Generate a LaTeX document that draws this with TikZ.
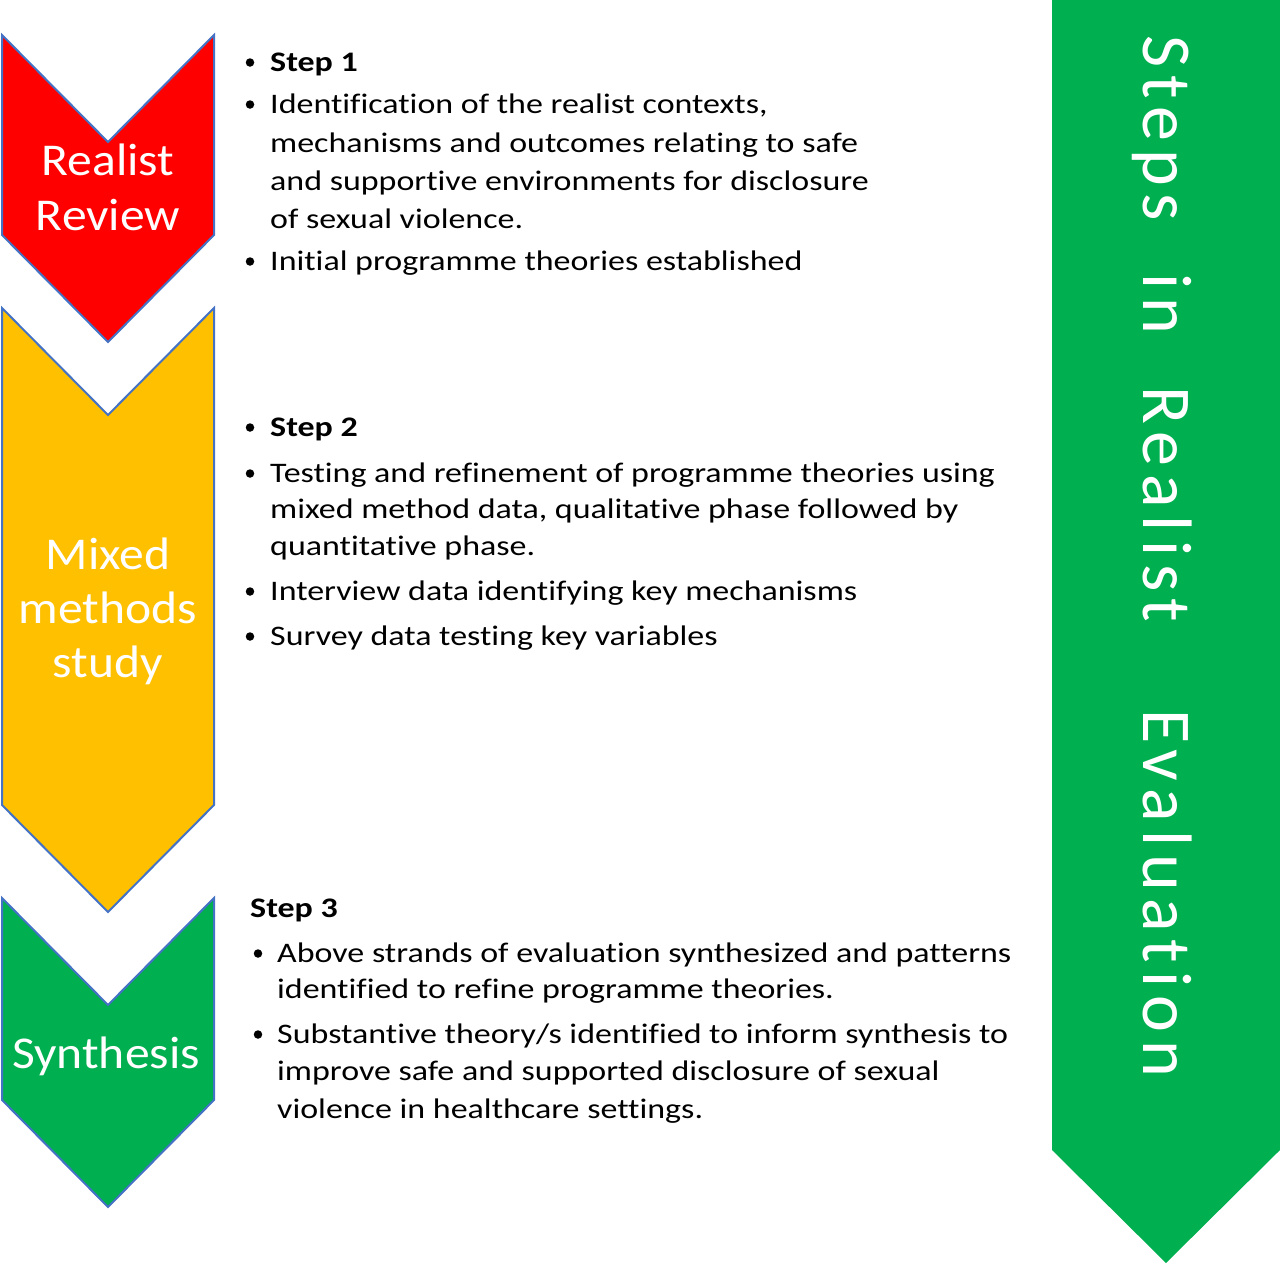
\documentclass[tikz,border=0pt]{standalone}
\usepackage{fontspec}
\setmainfont{Carlito}[Ligatures=NoCommon]
\newfontfamily\bodyfont{Carlito}[FakeStretch=1.2, Ligatures=NoCommon]
\newfontfamily\labfont{Carlito}[FakeStretch=1.09, Ligatures=NoCommon]
\newfontfamily\sidefont{Carlito}[LetterSpace=11.5, Ligatures=NoCommon]
\definecolor{cred}{HTML}{FF0000}
\definecolor{cyel}{HTML}{FFC000}
\definecolor{cgrn}{HTML}{00B050}
\definecolor{cblue}{HTML}{4472C4}
\tikzset{
  chev/.style={draw=cblue, line width=2pt, line join=miter},
  lab/.style={font=\labfont\fontsize{45.5}{54}\selectfont, text=white, anchor=base, inner sep=0pt},
  body/.style={font=\bodyfont\fontsize{28.3}{34}\selectfont, anchor=base west, inner sep=0pt},
  bodyb/.style={font=\bodyfont\bfseries\fontsize{28.3}{34}\selectfont, anchor=base west, inner sep=0pt},
  bul/.style={circle, fill=black, inner sep=0pt, minimum size=8.5pt},
  side/.style={font=\sidefont\fontsize{70}{80}\selectfont, text=white, anchor=base west, inner sep=0pt, rotate=-90}
}
\begin{document}
\begin{tikzpicture}[x=1pt,y=-1pt]
\useasboundingbox (0,0) rectangle (1280,1264);
% right banner
\fill[cgrn] (1052,0) -- (1280,0) -- (1280,1150) -- (1166,1263) -- (1052,1150) -- cycle;
\node[side] (title) at (1143,35) {Steps\hspace{53pt}in\hspace{52pt}Realist\hspace{87pt}Evaluation};
% chevrons
\filldraw[chev, fill=cred] (2,35) -- (108,142) -- (214,35) -- (214,235) -- (108,342) -- (2,235) -- cycle;
\filldraw[chev, fill=cyel] (2,308) -- (108,415) -- (214,308) -- (214,805) -- (108,912) -- (2,805) -- cycle;
\filldraw[chev, fill=cgrn] (2,898) -- (108,1005) -- (214,898) -- (214,1100) -- (108,1207) -- (2,1100) -- cycle;
% chevron labels
\node[lab] (rr1) at (108,175) {Realist};
\node[lab] (rr2) at (108,230) {Review};
\node[lab] (mm1) at (108,569) {Mixed};
\node[lab] (mm2) at (108,623) {methods};
\node[lab] (mm3) at (108,677) {study};
\node[lab] (sy1) at (106,1068) {Synthesis};
% step 1
\node[bul] (b11) at (250,62.5) {};
\node[bodyb] (s1) at (270,71) {Step 1};
\node[bul] (b12) at (250,104.5) {};
\node[body] (s1a) at (270,113) {Identification of the realist contexts,};
\node[body] (s1b) at (270,152) {mechanisms and outcomes relating to safe};
\node[body] (s1c) at (270,190) {and supportive environments for disclosure};
\node[body] (s1d) at (270,228) {of sexual violence.};
\node[bul] (b13) at (250,261.5) {};
\node[body] (s1e) at (270,270) {Initial programme theories established};
% step 2
\node[bul] (b21) at (250,427.5) {};
\node[bodyb] (s2) at (270,436) {Step 2};
\node[bul] (b22) at (250,473.5) {};
\node[body] (s2a) at (270,482) {Testing and refinement of programme theories using};
\node[body] (s2b) at (270,518) {mixed method data, qualitative phase followed by};
\node[body] (s2c) at (270,555) {quantitative phase.};
\node[bul] (b23) at (250,591.5) {};
\node[body] (s2d) at (270,600) {Interview data identifying key mechanisms};
\node[bul] (b24) at (250,636.5) {};
\node[body] (s2e) at (270,645) {Survey data testing key variables};
% step 3
\node[bodyb] (s3) at (250,917) {Step 3};
\node[bul] (b31) at (258,953.5) {};
\node[body] (s3a) at (277,962) {Above strands of evaluation synthesized and patterns};
\node[body] (s3b) at (277,998) {identified to refine programme theories.};
\node[bul] (b32) at (258,1034.5) {};
\node[body] (s3c) at (277,1043) {Substantive theory/s identified to inform synthesis to};
\node[body] (s3d) at (277,1080) {improve safe and supported disclosure of sexual};
\node[body] (s3e) at (277,1118) {violence in healthcare settings.};
\end{tikzpicture}
\end{document}
